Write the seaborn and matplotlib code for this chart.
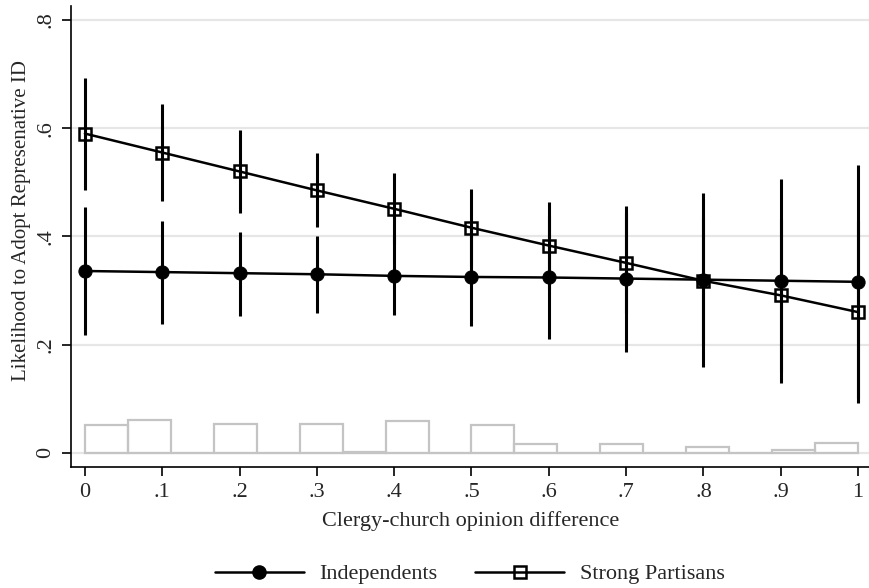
import numpy as np
import pandas as pd
import seaborn as sns
import matplotlib
matplotlib.use("Agg")
import matplotlib.pyplot as plt
from matplotlib.lines import Line2D

# Predicted probabilities with 95% confidence intervals
opinion_diff = [0.0, 0.1, 0.2, 0.3, 0.4, 0.5, 0.6, 0.7, 0.8, 0.9, 1.0]

indep_pred = [0.336, 0.334, 0.332, 0.330, 0.327, 0.325, 0.324, 0.322, 0.320, 0.318, 0.316]
indep_lo = [0.217, 0.238, 0.253, 0.259, 0.254, 0.235, 0.211, 0.187, 0.158, 0.129, 0.101]
indep_hi = [0.455, 0.429, 0.409, 0.400, 0.400, 0.415, 0.437, 0.457, 0.480, 0.506, 0.531]

partisan_pred = [0.590, 0.555, 0.520, 0.485, 0.451, 0.416, 0.383, 0.351, 0.318, 0.291, 0.260]
partisan_lo = [0.486, 0.465, 0.444, 0.418, 0.385, 0.345, 0.303, 0.258, 0.200, 0.150, 0.092]
partisan_hi = [0.693, 0.645, 0.597, 0.554, 0.517, 0.487, 0.463, 0.444, 0.436, 0.432, 0.428]

# Distribution of the moderator (share of observations per bin)
hist_edges = list(np.linspace(0, 1, 19))
hist_share = [0.052, 0.060, 0.0, 0.054, 0.0, 0.053, 0.002, 0.059, 0.0,
              0.052, 0.017, 0.0, 0.017, 0.0, 0.010, 0.0, 0.006, 0.018]

y_ticks = [0, 0.2, 0.4, 0.6, 0.8]
y_ticklabels = ["0", ".2", ".4", ".6", ".8"]
x_ticklabels = ["0", ".1", ".2", ".3", ".4", ".5", ".6", ".7", ".8", ".9", "1"]

FS = 16

sns.set_theme(style="white")
plt.rcParams["font.family"] = ["Liberation Serif", "DejaVu Serif"]

fig = plt.figure(figsize=(8.7, 5.88), dpi=100)
ax = fig.add_axes([0.0816, 0.206, 0.918, 0.784])

# horizontal grid
for yv in y_ticks:
    ax.axhline(yv, color="#e6e6e6", lw=1.6, zorder=0)

# histogram of the moderator
centers = [(hist_edges[i] + hist_edges[i + 1]) / 2 for i in range(len(hist_share))]
hist_df = pd.DataFrame({"x": centers, "w": hist_share})
sns.histplot(data=hist_df, x="x", weights="w", bins=hist_edges, fill=False,
             element="bars", color="#c4c4c4", linewidth=1.6, ax=ax, zorder=1)

# confidence intervals
ax.vlines(opinion_diff, indep_lo, indep_hi, color="black", lw=2.2, zorder=2)
ax.vlines(opinion_diff, partisan_lo, partisan_hi, color="black", lw=2.2, zorder=2)

pred_df = pd.DataFrame({
    "x": opinion_diff * 2,
    "y": indep_pred + partisan_pred,
    "group": ["Independents"] * len(opinion_diff) + ["Strong Partisans"] * len(opinion_diff),
})
sns.lineplot(data=pred_df[pred_df.group == "Independents"], x="x", y="y",
             color="black", lw=1.8, marker="o", markersize=9.5,
             markeredgecolor="black", markerfacecolor="black", ax=ax, zorder=3)
sns.lineplot(data=pred_df[pred_df.group == "Strong Partisans"], x="x", y="y",
             color="black", lw=1.8, marker="s", markersize=8.5, markeredgewidth=1.8,
             markeredgecolor="black", markerfacecolor="none", ax=ax, zorder=3)

ax.set_xlim(-0.018, 1.015)
ax.set_ylim(-0.026, 0.826)
ax.set_xticks(opinion_diff)
ax.set_xticklabels(x_ticklabels, fontsize=FS)
ax.set_yticks(y_ticks)
ax.set_yticklabels(y_ticklabels, fontsize=FS, rotation=90, va="center")
ax.tick_params(axis="both", direction="out", length=6.5, width=1.2, color="black",
               bottom=True, left=True, pad=5)
for side in ["top", "right"]:
    ax.spines[side].set_visible(False)
for side in ["left", "bottom"]:
    ax.spines[side].set_color("black")
    ax.spines[side].set_linewidth(1.2)

ax.set_xlabel("Clergy-church opinion difference", fontsize=FS, labelpad=7)
ax.set_ylabel("Likelihood to Adopt Represenative ID", fontsize=15)
ax.yaxis.set_label_coords(-0.05, 0.534)

handles = [
    Line2D([], [], color="black", lw=1.8, marker="o", markersize=9.5,
           markerfacecolor="black", markeredgecolor="black"),
    Line2D([], [], color="black", lw=1.8, marker="s", markersize=8.5, markeredgewidth=1.8,
           markerfacecolor="none", markeredgecolor="black"),
]
fig.legend(handles, ["Independents", "Strong Partisans"], loc="lower center",
           bbox_to_anchor=(0.54, -0.028), ncol=2, frameon=False, fontsize=FS,
           handlelength=4.0, columnspacing=1.7, handletextpad=0.7)

fig.savefig("out.png", dpi=100)
